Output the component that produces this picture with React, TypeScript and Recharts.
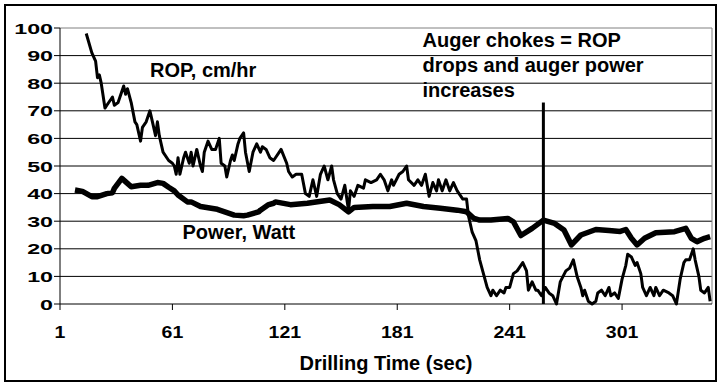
import React from 'react';
import { LineChart, Line, XAxis, YAxis, ReferenceLine } from 'recharts';

const ropTime = [15, 18, 20, 21, 22, 23, 25, 26, 29, 30, 32, 35, 36, 37, 39, 41, 42, 44, 45, 47, 49, 51, 52, 53, 54, 56, 59, 61, 62, 63, 64, 65, 67, 68, 70, 71, 72, 74, 76, 77, 78, 80, 82, 84, 86, 87, 89, 90, 92, 93, 94, 96, 97, 99, 100, 102, 104, 106, 108, 109, 111, 113, 115, 116, 119, 122, 123, 125, 127, 130, 132, 134, 136, 138, 140, 142, 144, 146, 147, 149, 151, 153, 155, 156, 158, 160, 163, 164, 167, 170, 172, 174, 176, 178, 179, 182, 184, 186, 187, 190, 192, 194, 196, 198, 200, 202, 203, 205, 207, 209, 211, 213, 216, 218, 219, 221, 223, 225, 227, 229, 231, 232, 234, 236, 238, 239, 241, 243, 245, 247, 248, 250, 251, 253, 255, 256, 258, 260, 262, 264, 266, 268, 271, 273, 275, 277, 279, 280, 281, 283, 285, 287, 288, 290, 292, 294, 295, 297, 299, 301, 303, 304, 306, 308, 309, 311, 312, 314, 316, 318, 319, 321, 323, 326, 328, 330, 332, 334, 335, 337, 339, 340, 342, 343, 345, 347, 348];
const ropValue = [98, 91, 88, 82, 83, 80, 71, 72, 75, 72, 73, 79, 76, 78, 73, 66, 65, 59, 64, 66, 70, 64, 61, 66, 61, 55, 52, 51, 50, 47, 53, 47, 53, 55, 51, 55, 50, 56, 50, 48, 55, 59, 56, 56, 60, 51, 50, 46, 52, 54, 52, 58, 60, 62, 55, 48, 55, 58, 55, 57, 56, 53, 52, 53, 56, 51, 48, 46, 47, 47, 40, 39, 45, 39, 47, 50, 45, 50, 45, 40, 38, 43, 34, 41, 39, 43, 42, 45, 44, 45, 47, 45, 41, 45, 43, 47, 48, 50, 45, 43, 45, 43, 47, 39, 44, 41, 45, 41, 45, 41, 44, 41, 38, 38, 32, 26, 23, 16, 11, 6, 3, 5, 3, 5, 4, 6, 6, 11, 12, 14, 15, 12, 5, 8, 5, 5, 3, 6, 4, 3, 0, 8, 12, 13, 16, 10, 6, 3, 5, 1, 0, 1, 4, 5, 3, 6, 3, 4, 2, 9, 14, 18, 17, 14, 15, 11, 6, 3, 6, 3, 6, 3, 5, 4, 3, 0, 9, 15, 16, 16, 20, 16, 10, 5, 4, 6, 1];

const powerTime = [9, 13, 18, 21, 26, 29, 30, 34, 37, 39, 44, 48, 53, 56, 59, 62, 64, 69, 71, 76, 85, 94, 99, 101, 107, 108, 112, 115, 116, 124, 133, 145, 150, 155, 158, 168, 177, 186, 195, 204, 213, 218, 222, 225, 231, 240, 243, 247, 253, 259, 265, 270, 274, 279, 287, 294, 300, 303, 306, 309, 313, 319, 329, 335, 338, 341, 345, 348];
const powerValue = [41.3, 40.8, 38.9, 38.9, 40, 40.3, 41.9, 45.5, 43.7, 42.5, 43, 43, 44, 43.7, 42.3, 41, 39.5, 37, 37, 35.3, 34.3, 32.2, 32, 32.2, 33.4, 34, 35.9, 36.5, 37, 36, 36.5, 37.7, 36, 33.4, 35, 35.3, 35.3, 36.5, 35.3, 34.7, 34, 33.4, 31, 30.4, 30.4, 31, 29.8, 24.8, 27.4, 30.4, 29.2, 26.8, 21.4, 25, 27, 26.6, 26.3, 27, 23.8, 21.4, 23.8, 25.8, 26.2, 27.4, 23.8, 22.6, 23.8, 24.4];

const xTicks = [1, 61, 121, 181, 241, 301];
const yTicks = [0, 10, 20, 30, 40, 50, 60, 70, 80, 90, 100];
const gridValues = [10, 20, 30, 40, 50, 60, 70, 80, 90];
const chokeTime = 259;
const chokeTop = 73;

const xTitle = 'Drilling Time (sec)';
const ropLabel = 'ROP, cm/hr';
const powerLabel = 'Power, Watt';
const chokeLines = ['Auger chokes = ROP', 'drops and auger power', 'increases'];

const ropData = ropTime.map((t, i) => ({ t, rop: ropValue[i] }));
const powerData = powerTime.map((t, i) => ({ t, power: powerValue[i] }));

const FONT = '"Liberation Sans", Arial, sans-serif';

const YTick = (props: any) => {
  const { x, y, payload } = props;
  return (
    <text
      transform={`translate(${x},${y}) scale(1.55,1)`}
      x={0}
      y={0}
      dy={5.5}
      textAnchor="end"
      fontFamily={FONT}
      fontWeight="bold"
      fontSize={15}
      fill="#000"
    >
      {payload.value}
    </text>
  );
};

const XTick = (props: any) => {
  const { x, y, payload } = props;
  return (
    <text
      transform={`translate(${x},${y}) scale(1.22,1)`}
      x={0}
      y={0}
      dy={11.6}
      textAnchor="middle"
      fontFamily={FONT}
      fontWeight="bold"
      fontSize={16}
      fill="#000"
    >
      {payload.value}
    </text>
  );
};

export default function App() {
  return (
    <div style={{ position: 'absolute', left: 0, top: 0, width: 725, height: 386, background: '#fff' }}>
      <div
        style={{
          position: 'absolute',
          left: 4,
          top: 4,
          width: 713,
          height: 378,
          boxSizing: 'border-box',
          border: '2px solid #000',
        }}
      />
      <div style={{ position: 'absolute', left: 0, top: 0 }}>
        <LineChart
          width={725}
          height={386}
          margin={{ top: 28, right: 13, bottom: 12, left: 0 }}
        >
          <XAxis
            type="number"
            dataKey="t"
            domain={[1, 349]}
            ticks={xTicks}
            interval={0}
            allowDataOverflow
            tickSize={6}
            tickMargin={16}
            height={70}
            stroke="#000"
            tick={<XTick />}
            label={{
              value: xTitle,
              position: 'insideBottom',
              offset: 4,
              style: { fontFamily: FONT, fontWeight: 'bold', fontSize: 20, fill: '#000' },
            }}
          />
          <YAxis
            type="number"
            domain={[0, 100]}
            ticks={yTicks}
            interval={0}
            width={60}
            tickSize={6}
            tickMargin={1}
            stroke="#000"
            tick={<YTick />}
          />
          {gridValues.map((v) => (
            <ReferenceLine key={v} y={v} stroke="#000" strokeWidth={1} />
          ))}
          <ReferenceLine y={100} stroke="#808080" strokeWidth={1} />
          <ReferenceLine x={349} stroke="#808080" strokeWidth={1} />
          <Line
            data={powerData}
            dataKey="power"
            type="linear"
            stroke="#000"
            strokeWidth={5.5}
            dot={false}
            isAnimationActive={false}
            strokeLinejoin="round"
          />
          <Line
            data={ropData}
            dataKey="rop"
            type="linear"
            stroke="#000"
            strokeWidth={3}
            dot={false}
            isAnimationActive={false}
            strokeLinejoin="round"
          />
          <ReferenceLine
            segment={[
              { x: chokeTime, y: 0 },
              { x: chokeTime, y: chokeTop },
            ]}
            stroke="#000"
            strokeWidth={3}
          />
          <g fontFamily={FONT} fontWeight="bold" fontSize={20} fill="#000">
            <rect x={145} y={36} width={139} height={64} fill="#fff" />
            <text x={150} y={77}>{ropLabel}</text>
            <rect x={177} y={220} width={137} height={26} fill="#fff" />
            <text x={182.5} y={239}>{powerLabel}</text>
            <rect x={417} y={18} width={265} height={86} fill="#fff" />
            {chokeLines.map((s, i) => (
              <text key={s} x={422.5} y={47 + i * 25}>{s}</text>
            ))}
          </g>
        </LineChart>
      </div>
    </div>
  );
}
